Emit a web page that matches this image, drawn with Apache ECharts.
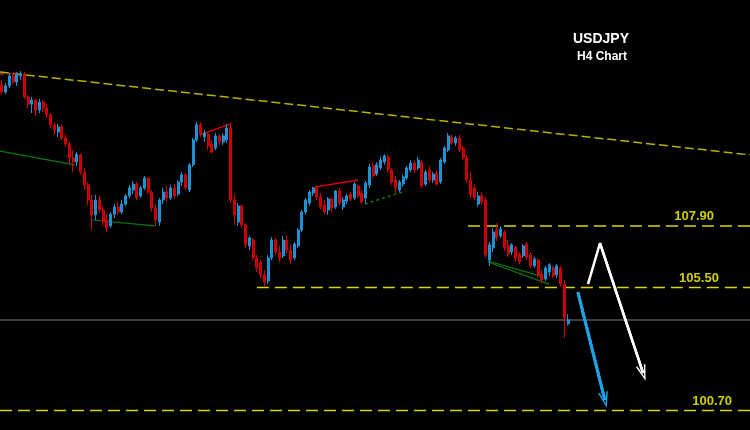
<!DOCTYPE html>
<html>
<head>
<meta charset="utf-8">
<script src="https://cdn.jsdelivr.net/npm/echarts@6/dist/echarts.min.js"></script>
<style>
  html, body { margin: 0; padding: 0; background: #000; }
  #chart { width: 750px; height: 430px; }
</style>
</head>
<body>
<div id="chart"></div>
<script>
// H4 candles: [open, close, low, high]
const candles = [
  [113.40, 113.12, 113.01, 113.59], [113.12, 113.36, 113.04, 113.47], [113.36, 113.75, 113.28, 113.86], [113.75, 113.51, 113.43, 113.86],
  [113.51, 113.79, 113.36, 113.90], [113.75, 113.82, 113.59, 113.94], [113.82, 112.93, 112.85, 113.90], [112.93, 112.65, 112.50, 113.01],
  [112.65, 112.81, 112.30, 112.93], [112.81, 112.42, 112.19, 112.85], [112.42, 112.73, 112.30, 112.85], [112.73, 112.50, 112.34, 112.81],
  [112.50, 112.23, 112.11, 112.65], [112.23, 111.84, 111.72, 112.30], [111.84, 111.64, 111.45, 111.95], [111.56, 111.76, 111.37, 111.87],
  [111.76, 111.33, 111.25, 111.84], [111.33, 111.09, 110.98, 111.48], [111.09, 110.55, 110.28, 111.17], [110.55, 110.39, 110.00, 110.86],
  [110.39, 110.70, 110.24, 110.78], [110.67, 110.00, 109.89, 110.74], [110.00, 109.50, 109.30, 110.16], [109.50, 108.91, 108.72, 109.61],
  [108.91, 108.33, 107.74, 109.11], [108.33, 108.91, 108.13, 109.11], [108.91, 108.52, 108.40, 109.07], [108.52, 108.05, 107.90, 108.68],
  [108.13, 107.82, 107.66, 108.36], [107.90, 108.36, 107.82, 108.44], [108.36, 108.64, 108.21, 108.75], [108.64, 108.44, 108.33, 108.83],
  [108.44, 108.75, 108.36, 108.91], [108.75, 109.07, 108.68, 109.14], [109.07, 109.38, 108.99, 109.50], [109.30, 109.53, 109.14, 109.65],
  [109.53, 108.99, 108.91, 109.61], [109.07, 109.38, 108.99, 109.46], [109.38, 109.77, 109.30, 109.85], [109.77, 109.22, 109.14, 109.81],
  [109.22, 108.60, 108.44, 109.30], [108.60, 108.13, 107.90, 108.75], [108.05, 108.91, 107.90, 108.99], [108.91, 109.22, 108.75, 109.38],
  [109.22, 108.99, 108.83, 109.46], [108.99, 109.38, 108.91, 109.50], [109.38, 109.07, 108.95, 109.53], [109.14, 109.61, 109.07, 109.69],
  [109.61, 109.89, 109.46, 110.00], [109.89, 109.38, 109.30, 109.96], [109.30, 110.28, 109.22, 110.35], [110.28, 111.25, 110.20, 111.33],
  [111.25, 111.84, 111.17, 111.95], [111.84, 111.48, 111.37, 111.95], [111.37, 111.52, 111.17, 111.64], [111.48, 111.02, 110.86, 111.56],
  [111.09, 110.78, 110.70, 111.25], [110.94, 111.41, 110.86, 111.52], [111.41, 111.17, 111.06, 111.48], [111.17, 111.41, 111.06, 111.52],
  [111.25, 111.72, 111.13, 111.87], [111.72, 108.91, 108.79, 111.95], [108.91, 108.33, 107.94, 109.14], [108.05, 108.68, 107.90, 108.79],
  [108.68, 107.94, 107.82, 108.72], [107.94, 107.16, 107.04, 108.01], [107.12, 107.43, 106.96, 107.51], [107.35, 106.65, 106.57, 107.43],
  [106.65, 106.26, 106.10, 106.77], [106.49, 105.99, 105.87, 106.57], [105.99, 105.71, 105.52, 106.18], [105.75, 106.65, 105.63, 106.77],
  [106.65, 107.35, 106.57, 107.47], [107.35, 106.88, 106.77, 107.43], [106.88, 106.65, 106.49, 107.12], [106.73, 107.35, 106.65, 107.51],
  [107.35, 106.96, 106.84, 107.55], [106.96, 106.57, 106.41, 107.16], [106.65, 107.19, 106.57, 107.27], [107.12, 107.74, 107.04, 107.82],
  [107.74, 108.44, 107.66, 108.52], [108.44, 108.91, 108.33, 108.99], [108.79, 109.22, 108.68, 109.30], [109.18, 109.38, 109.07, 109.42],
  [109.38, 109.03, 108.91, 109.42], [109.03, 108.64, 108.56, 109.18], [108.72, 108.44, 108.36, 108.91], [108.52, 108.95, 108.33, 109.03],
  [108.95, 108.60, 108.44, 108.99], [108.64, 109.26, 108.56, 109.30], [109.26, 108.79, 108.68, 109.38], [108.64, 108.91, 108.52, 109.03],
  [108.87, 109.07, 108.75, 109.14], [109.14, 108.95, 108.87, 109.22], [108.99, 109.53, 108.91, 109.61], [109.46, 109.07, 108.99, 109.50],
  [109.18, 108.83, 108.75, 109.30], [108.99, 109.57, 108.75, 109.65], [109.50, 110.20, 109.38, 110.31], [110.24, 109.85, 109.77, 110.39],
  [109.92, 110.28, 109.85, 110.39], [110.16, 110.47, 110.08, 110.59], [110.39, 110.63, 110.28, 110.70], [110.59, 110.08, 110.00, 110.67],
  [110.08, 109.61, 109.50, 110.16], [109.69, 109.38, 109.18, 109.85], [109.30, 109.61, 109.22, 109.69], [109.53, 109.81, 109.42, 109.89],
  [109.77, 110.16, 109.69, 110.24], [110.08, 110.35, 110.00, 110.47], [110.35, 110.08, 109.96, 110.43], [110.16, 110.47, 110.08, 110.59],
  [110.39, 109.46, 109.38, 110.47], [109.53, 110.00, 109.46, 110.08], [110.08, 109.69, 109.57, 110.24], [109.69, 109.92, 109.57, 110.00],
  [109.96, 109.53, 109.46, 110.08], [109.61, 110.47, 109.53, 110.55], [110.39, 110.94, 110.31, 111.02], [110.86, 111.41, 110.78, 111.52],
  [111.37, 111.13, 111.06, 111.48], [111.13, 111.33, 111.02, 111.41], [111.33, 110.86, 110.78, 111.45], [110.94, 110.55, 110.47, 111.02],
  [110.55, 109.69, 109.61, 110.67], [109.69, 109.11, 108.99, 110.00], [109.38, 108.99, 108.91, 109.50], [108.75, 109.07, 108.64, 109.22],
  [109.07, 108.83, 108.72, 109.22], [108.91, 106.77, 106.65, 109.03], [106.57, 107.16, 106.34, 107.27], [107.04, 107.66, 106.88, 107.82],
  [107.74, 107.43, 107.31, 108.01], [107.51, 107.78, 107.43, 107.90], [107.66, 107.04, 106.92, 107.74], [107.12, 106.80, 106.69, 107.35],
  [106.88, 107.16, 106.77, 107.23], [107.08, 106.65, 106.53, 107.12], [106.80, 106.49, 106.41, 106.88], [106.73, 107.12, 106.65, 107.19],
  [107.19, 106.69, 106.57, 107.27], [106.77, 106.34, 106.26, 106.88], [106.34, 106.61, 106.26, 106.69], [106.57, 105.99, 105.87, 106.61],
  [106.02, 105.79, 105.67, 106.18], [105.83, 106.26, 105.75, 106.34], [106.10, 106.38, 105.95, 106.45], [106.26, 105.95, 105.87, 106.34],
  [105.99, 106.34, 105.87, 106.41], [106.26, 105.63, 105.52, 106.34], [105.63, 104.31, 103.53, 105.79], [104.08, 104.23, 104.02, 104.46]
];

// horizontal levels (start slot, price, label)
const levelPrices = [107.90, 105.50, 100.70];
const levelLabels = ['107.90', '105.50', '100.70'];
const levelStart = [124.3, 68.0, -0.5];
const levelLabelSlot = [184.6, 185.9, 189.4];

const currentPrice = 104.23;

// drawn trend lines, [slot, price] pairs
const topTrend = [[-0.5, 113.90], [199.5, 110.67]];
const greenLines = [
  [[-0.5, 110.82], [19.5, 110.28]],
  [[24.0, 108.13], [40.8, 107.90]],
  [[129.6, 106.53], [143.5, 105.95]],
  [[129.6, 106.49], [145.9, 105.63]]
];
const greenDotted = [[96.8, 108.75], [107.5, 109.26]];
const redLines = [
  [[52.8, 111.45], [60.8, 111.87]],
  [[83.5, 109.42], [95.0, 109.69]]
];
const redDashed = [[-0.5, 113.82], [4.8, 113.86]];

// projection arrows
const whiteArrow = [[156.3, 105.63], [159.5, 107.23], [171.0, 102.16]];
const blueArrow = [[153.6, 105.32], [160.8, 101.11]];

const slotCount = 200;
const slots = [];
for (let i = 0; i < slotCount; i++) slots.push(i);

const FONT = 'Liberation Sans';
const arrowHead = 'path://M5,0 L10,16 L8.4,16 L5,4.5 L1.6,16 L0,16 Z';

function seg(data, color, width, type) {
  return {
    type: 'line', xAxisIndex: 1, yAxisIndex: 0,
    data: data, symbol: 'none', silent: true,
    lineStyle: { color: color, width: width, type: type || 'solid' },
    z: 3
  };
}

function arrow(data, color, width) {
  const n = data.length;
  const s = seg(data, color, width);
  s.z = 5;
  s.markLine = {
    silent: true,
    symbol: ['none', arrowHead],
    symbolSize: [10, 16],
    label: { show: false },
    lineStyle: { color: color, width: width, type: 'solid' },
    data: [[{ coord: data[n - 2] }, { coord: data[n - 1] }]]
  };
  return s;
}

const chart = echarts.init(document.getElementById('chart'));

const series = [];

series.push({
  type: 'candlestick',
  xAxisIndex: 0, yAxisIndex: 0,
  data: candles,
  barWidth: 2.6,
  itemStyle: {
    color: '#1a8fd0',
    color0: '#b80000',
    borderColor: '#1e95d8',
    borderColor0: '#d80000',
    borderWidth: 1
  },
  z: 4
});

series.push(seg(topTrend, '#b3b300', 1.5, [9, 4]));
greenLines.forEach(l => series.push(seg(l, '#0a7a0a', 1.2)));
series.push(seg(greenDotted, '#0a7a0a', 1.5, [3, 3]));
redLines.forEach(l => series.push(seg(l, '#d80000', 1.5)));
series.push(seg(redDashed, '#c03000', 1.5, [4, 3]));

series.push(seg([[-0.5, currentPrice], [199.5, currentPrice]], '#50565e', 1.5));

levelPrices.forEach((p, i) => {
  series.push(seg([[levelStart[i], p], [199.5, p]], '#d6d600', 1.5, [12, 6]));
});

series.push({
  type: 'scatter', xAxisIndex: 1, yAxisIndex: 0,
  symbolSize: 0, silent: true,
  data: levelPrices.map((p, i) => ({ value: [levelLabelSlot[i], p], name: levelLabels[i] })),
  label: {
    show: true, position: 'top', distance: 3,
    formatter: d => d.name,
    color: '#ffff00', fontFamily: FONT, fontWeight: 'bold', fontSize: 13
  },
  z: 6
});

series.push(arrow(whiteArrow, '#ffffff', 2.5));
series.push(arrow(blueArrow, '#1ba3e6', 3));

chart.setOption({
  backgroundColor: '#000000',
  animation: false,
  title: [
    { text: 'USDJPY', left: 596, top: 27, textAlign: 'center',
      textStyle: { color: '#ffffff', fontFamily: FONT, fontWeight: 'bold', fontSize: 14 } },
    { text: 'H4 Chart', left: 597, top: 46, textAlign: 'center',
      textStyle: { color: '#ffffff', fontFamily: FONT, fontWeight: 'bold', fontSize: 12 } }
  ],
  grid: { left: 0, right: 0, top: 0, bottom: 0, containLabel: false },
  xAxis: [
    { type: 'category', data: slots, boundaryGap: true, show: false },
    { type: 'value', min: -0.5, max: 199.5, show: false }
  ],
  yAxis: [
    { type: 'value', min: 99.94, max: 116.71, show: false, scale: true }
  ],
  series: series
});
</script>
</body>
</html>
